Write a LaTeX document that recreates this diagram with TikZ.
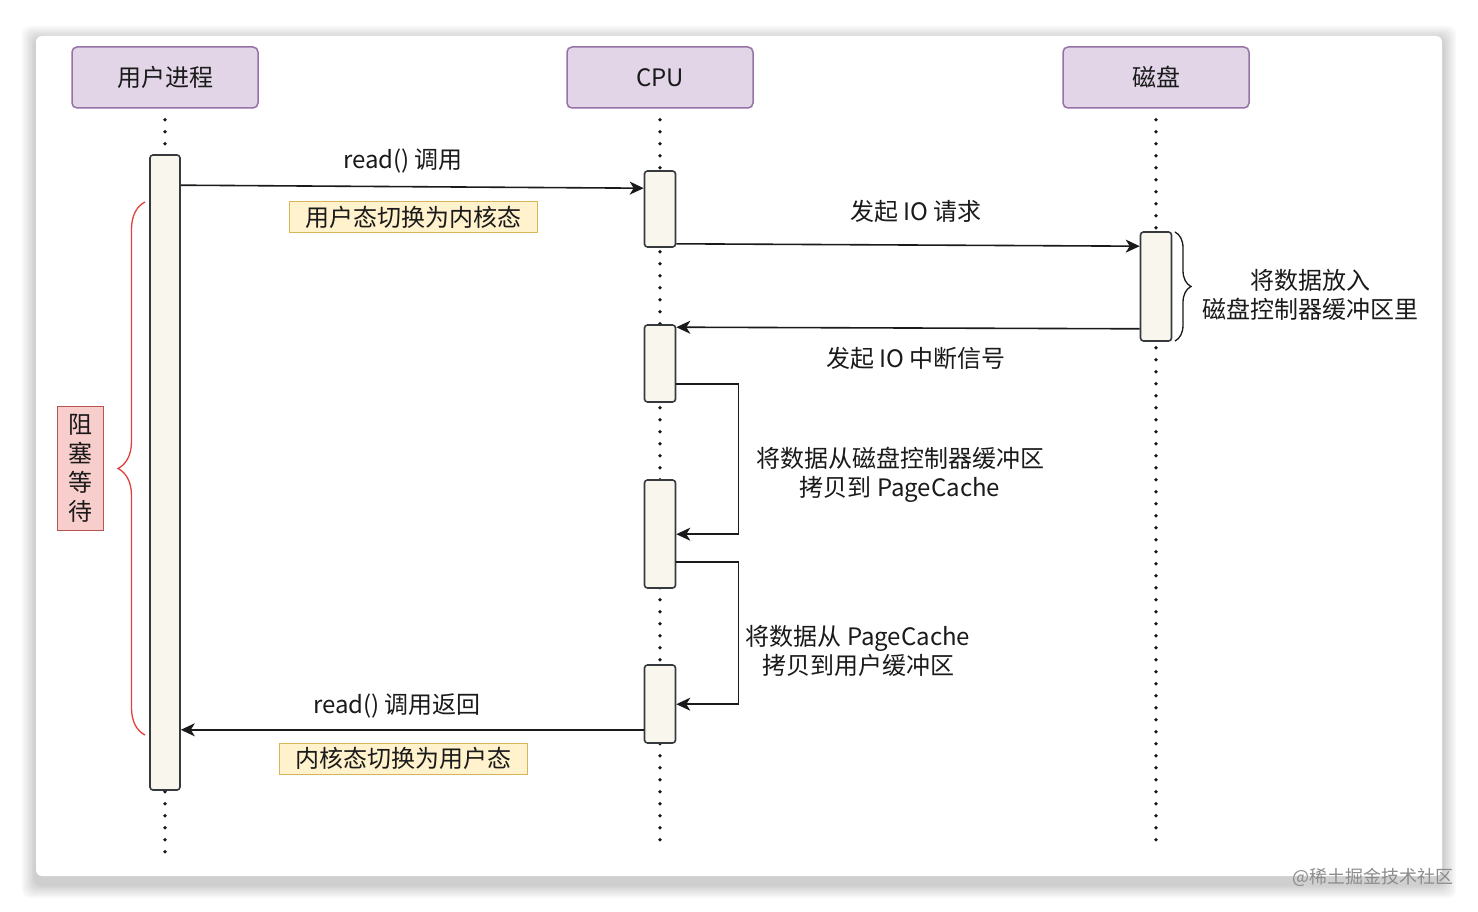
\documentclass[tikz,border=0pt]{standalone}
\usepackage{fontspec}
\setmainfont{Noto Sans CJK SC}
\usetikzlibrary{arrows.meta,calc,decorations.pathreplacing}
\definecolor{hdrfill}{HTML}{E1D5E7}
\definecolor{hdrline}{HTML}{9673A6}
\definecolor{barfill}{HTML}{F9F7ED}
\definecolor{barline}{HTML}{36393D}
\definecolor{notefill}{HTML}{FFF2CC}
\definecolor{noteline}{HTML}{D6B656}
\definecolor{waitfill}{HTML}{F8CECC}
\definecolor{waitline}{HTML}{B85450}
\definecolor{bracered}{HTML}{E0403C}
\definecolor{txt}{HTML}{1A1A1A}
\tikzset{
  hdr/.style={draw=hdrline, fill=hdrfill, line width=1.5pt, rounded corners=5pt,
    minimum width=186pt, minimum height=61pt, inner sep=0pt,
    font=\fontsize{24}{28}\selectfont, text=txt},
  actbar/.style={draw=barline, fill=barfill, line width=1.6pt, rounded corners=3pt,
    minimum width=31pt, inner sep=0pt},
  life/.style={line width=3.8pt, line cap=round, dash pattern=on 0pt off 12pt, draw=txt},
  msg/.style={draw=txt, line width=1.6pt, -{Stealth[length=14pt,width=13pt,inset=4pt]}},
  lbl/.style={font=\fontsize{24}{29}\selectfont, text=txt, align=center, inner sep=0pt},
  note/.style={draw=noteline, fill=notefill, line width=1pt, minimum width=248pt,
    minimum height=31pt, inner sep=0pt, font=\fontsize{24}{28}\selectfont, text=txt},
}
\begin{document}
\begin{tikzpicture}[x=1pt,y=-1pt]
\useasboundingbox (0,0) rectangle (1478,912);
\fill[white] (0,0) rectangle (1478,912);
% card shadow
\foreach \g in {14,12,10,8,6,4,2}{
  \fill[black, opacity=0.028, rounded corners=8pt] (36-\g,36-\g+4) rectangle (1442+\g,876+\g+8);
}
\fill[white, rounded corners=6pt] (36,36) rectangle (1442,876);

% headers
\node[hdr] (hu) at (165,77.5) {用户进程};
\node[hdr] (hc) at (660,77.5) {CPU};
\node[hdr] (hd) at (1156,77.5) {磁盘};

% lifelines
\coordinate (eu) at (165,852);
\coordinate (ec) at (660,845);
\coordinate (ed) at (1156,845);
\draw[life] ([yshift=-11pt]hu.south) -- (eu);
\draw[life] ([yshift=-11pt]hc.south) -- (ec);
\draw[life] ([yshift=-11pt]hd.south) -- (ed);

% activation bars
\node[actbar, minimum width=30pt, minimum height=635pt] (ubar) at (165,472.5) {};
\node[actbar, minimum height=76pt] (c1) at (660,209) {};
\node[actbar, minimum height=109pt] (dbar) at (1156,286.5) {};
\node[actbar, minimum height=77pt] (c2) at (660,363.5) {};
\node[actbar, minimum height=108pt] (c3) at (660,534) {};
\node[actbar, minimum height=78pt] (c4) at (660,704) {};

% messages
\draw[msg] ([yshift=-31pt]ubar.north east) -- ([yshift=-18pt]c1.north west);
\node[lbl] (l1) at (403,161) {read() 调用};
\node[note] (n1) at (413,217.5) {用户态切换为内核态};

\draw[msg] ([yshift=4pt]c1.south east) -- ([yshift=-15pt]dbar.north west);
\node[lbl] (l2) at (916,211) {发起 IO 请求};

\draw[msg] ([yshift=13pt]dbar.south west) -- ([yshift=-3pt]c2.north east);
\node[lbl] (l3) at (916,358) {发起 IO 中断信号};

\draw[msg] ([yshift=19pt]c2.south east) -- ++(62,0) |- ([yshift=-55pt]c3.north east);
\node[lbl] (l4) at (900,475) {将数据从磁盘控制器缓冲区\\拷贝到 PageCache};

\draw[msg] ([yshift=27pt]c3.south east) -- ++(62,0) |- ([yshift=-40pt]c4.north east);
\node[lbl] (l5) at (858,651) {将数据从 PageCache\\拷贝到用户缓冲区};

\draw[msg] ([yshift=14pt]c4.south west) -- ([yshift=61pt]ubar.south east);
\node[lbl] (l6) at (397,706) {read() 调用返回};
\node[note] (n2) at (403,758.5) {内核态切换为用户态};

% braces
\coordinate (rb1) at (145,735);
\coordinate (rb2) at (145,202);
\draw[bracered, line width=1.3pt, decorate, decoration={brace, amplitude=27pt}] (rb1) -- (rb2);
\node[draw=waitline, fill=waitfill, line width=1pt, minimum width=46pt, minimum height=124pt,
  inner sep=0pt, align=center, font=\fontsize{24}{29}\selectfont, text=txt] (wait) at (80,468) {阻\\塞\\等\\待};

\coordinate (db1) at (1175,232);
\coordinate (db2) at (1175,341);
\draw[txt, line width=1.3pt, decorate, decoration={brace, amplitude=16pt}] (db1) -- (db2);
\node[lbl] (l7) at (1310,295) {将数据放入\\磁盘控制器缓冲区里};

% watermark
\node[font=\fontsize{18}{20}\selectfont, text=black!45, inner sep=0pt] (wm) at (1373,877) {@稀土掘金技术社区};
\end{tikzpicture}
\end{document}
